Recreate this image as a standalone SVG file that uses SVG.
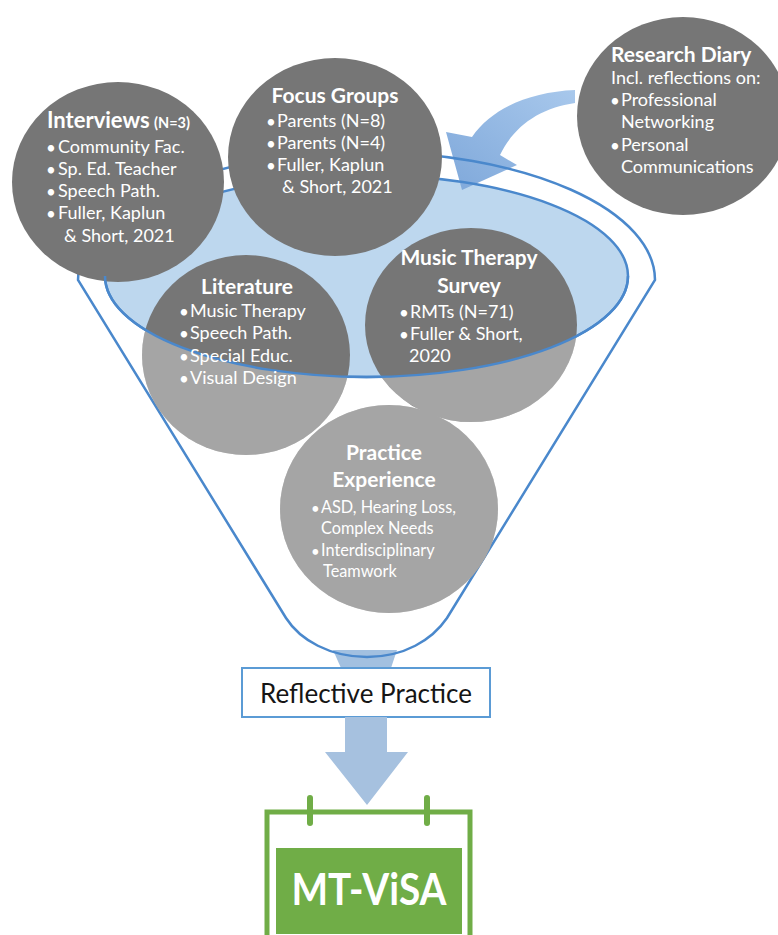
<svg xmlns="http://www.w3.org/2000/svg" width="778" height="935" viewBox="0 0 778 935">
  <style>
    .disc { fill: #767676; }
    .ttl { font-family: Lato, "Open Sans", sans-serif; font-weight: bold; font-size: 21px; fill: #ffffff; }
    .li { font-family: Lato, "Open Sans", sans-serif; font-size: 18px; fill: #ffffff; }
    .li2 { font-family: Lato, "Open Sans", sans-serif; font-size: 16.3px; fill: #ffffff; }
    .bul { font-family: Lato, "Open Sans", sans-serif; font-size: 17px; fill: #ffffff; }
    .mid { text-anchor: middle; }
    .rim { fill: none; stroke: #4a88cc; stroke-width: 2.5; }
  </style>
  <defs>
    <linearGradient id="curveFill" x1="1" y1="0" x2="0" y2="1">
      <stop offset="0" stop-color="#a8c8ec"/>
      <stop offset="1" stop-color="#7fa8da"/>
    </linearGradient>
    <clipPath id="innerDiscs">
      <ellipse cx="246" cy="355" rx="104" ry="100"/>
      <ellipse cx="471" cy="325" rx="106" ry="97"/>
      <ellipse cx="389" cy="509" rx="109" ry="104"/>
    </clipPath>
  </defs>

  <rect width="778" height="935" fill="#ffffff"/>

  <!-- funnel: stem, liquid surface, incoming arrow, outline -->
  <g id="funnel">
    <polygon points="333,650 397,650 391,668 341,668" fill="#a2c0e0"/>
    <ellipse cx="366.5" cy="276" rx="261.5" ry="101" fill="#bdd7ee"/>
    <path id="diary-arrow" d="M 575,90 C 530,92 492,108 472,137 L 446,132 L 462,190 L 517,165 L 500,155 C 514,126 540,108 575,103 Z" fill="url(#curveFill)"/>
    <ellipse class="rim" cx="366.5" cy="276" rx="261.5" ry="101"/>
    <path class="rim" d="M 655,280 A 288.5 128 0 0 0 78,280 L 286,618 C 300,640 330,657 367,657 C 404,657 432,640 447,618 Z"/>
  </g>

  <!-- sources inside the funnel -->
  <g id="literature">
    <ellipse class="disc" cx="246" cy="355" rx="104" ry="100"/>
  </g>
  <g id="survey">
    <ellipse class="disc" cx="471" cy="325" rx="106" ry="97"/>
  </g>
  <g id="practice">
    <ellipse class="disc" cx="389" cy="509" rx="109" ry="104"/>
  </g>

  <!-- lighter shading of the discs below the surface -->
  <path clip-path="url(#innerDiscs)" fill-rule="evenodd" fill="#ffffff" fill-opacity="0.35"
        d="M 0,0 H 778 V 935 H 0 Z M 105,276 A 261.5 101 0 0 0 628,276 A 261.5 101 0 0 0 105,276 Z"/>

  <!-- sources at the rim -->
  <g id="interviews">
    <ellipse class="disc" cx="118" cy="182" rx="106" ry="100"/>
  </g>
  <g id="focus-groups">
    <ellipse class="disc" cx="335" cy="157" rx="107" ry="99"/>
  </g>
  <g id="research-diary">
    <ellipse class="disc" cx="683" cy="116" rx="106" ry="99"/>
  </g>

  <!-- front edge of the surface -->
  <g id="connectors">
    <path class="rim" d="M 105,276 A 261.5 101 0 0 0 628,276"/>
  </g>

  <!-- labels -->
  <g id="interviews-text">
    <text class="ttl" x="47" y="128" style="font-size:22px">Interviews</text>
    <text class="ttl" x="154" y="128" style="font-size:14.5px">(N=3)</text>
    <text class="bul" x="46" y="154">•</text><text class="li" x="58" y="153">Community Fac.</text>
    <text class="bul" x="46" y="176">•</text><text class="li" x="58" y="175">Sp. Ed. Teacher</text>
    <text class="bul" x="46" y="198">•</text><text class="li" x="58" y="197">Speech Path.</text>
    <text class="bul" x="46" y="220">•</text><text class="li" x="58" y="219">Fuller, Kaplun</text>
    <text class="li" x="64" y="242">&amp; Short, 2021</text>
  </g>
  <g id="focus-text">
    <text class="ttl mid" x="335" y="103">Focus Groups</text>
    <text class="bul" x="266" y="128">•</text><text class="li" x="277" y="127">Parents (N=8)</text>
    <text class="bul" x="266" y="150">•</text><text class="li" x="277" y="149">Parents (N=4)</text>
    <text class="bul" x="266" y="172">•</text><text class="li" x="277" y="171">Fuller, Kaplun</text>
    <text class="li" x="282" y="193">&amp; Short, 2021</text>
  </g>
  <g id="diary-text">
    <text class="ttl" x="611" y="62">Research Diary</text>
    <text class="li" x="611" y="84">Incl. reflections on:</text>
    <text class="bul" x="610" y="107">•</text><text class="li" x="621" y="106">Professional</text>
    <text class="li" x="621" y="128">Networking</text>
    <text class="bul" x="610" y="152">•</text><text class="li" x="621" y="151">Personal</text>
    <text class="li" x="621" y="173">Communications</text>
  </g>
  <g id="literature-text">
    <text class="ttl mid" x="247" y="294">Literature</text>
    <text class="bul" x="179" y="318">•</text><text class="li" x="190" y="317">Music Therapy</text>
    <text class="bul" x="179" y="340">•</text><text class="li" x="190" y="339">Speech Path.</text>
    <text class="bul" x="179" y="363">•</text><text class="li" x="190" y="362">Special Educ.</text>
    <text class="bul" x="179" y="385">•</text><text class="li" x="190" y="384">Visual Design</text>
  </g>
  <g id="survey-text">
    <text class="ttl mid" x="469" y="265">Music Therapy</text>
    <text class="ttl mid" x="469" y="293">Survey</text>
    <text class="bul" x="399" y="319">•</text><text class="li" x="410" y="318">RMTs (N=71)</text>
    <text class="bul" x="399" y="341">•</text><text class="li" x="410" y="340">Fuller &amp; Short,</text>
    <text class="li" x="409" y="362">2020</text>
  </g>
  <g id="practice-text">
    <text class="ttl mid" x="384" y="460">Practice</text>
    <text class="ttl mid" x="384" y="487">Experience</text>
    <text class="bul" x="311" y="514" style="font-size:15px">•</text><text class="li2" x="321" y="513">ASD, Hearing Loss,</text>
    <text class="li2" x="321" y="534">Complex Needs</text>
    <text class="bul" x="311" y="557" style="font-size:15px">•</text><text class="li2" x="321" y="556">Interdisciplinary</text>
    <text class="li2" x="323" y="577">Teamwork</text>
  </g>

  <!-- reflective practice box -->
  <g id="reflective-practice">
    <rect x="242" y="668" width="248" height="49" fill="#ffffff" stroke="#5b9bd5" stroke-width="2"/>
    <text x="366" y="703" text-anchor="middle" font-family="Lato, 'Open Sans', sans-serif" font-size="26" fill="#151515">Reflective Practice</text>
  </g>

  <!-- output arrow -->
  <g id="output-arrow">
    <polygon points="345,717 387,717 387,752 408,752 367,805 325,752 345,752" fill="#a6c1df"/>
  </g>

  <!-- MT-ViSA calendar -->
  <g id="mt-visa">
    <rect x="267" y="812" width="203" height="130" fill="#ffffff" stroke="#70ad47" stroke-width="5"/>
    <line x1="310" y1="798" x2="310" y2="823" stroke="#70ad47" stroke-width="6" stroke-linecap="round"/>
    <line x1="427" y1="798" x2="427" y2="823" stroke="#70ad47" stroke-width="6" stroke-linecap="round"/>
    <rect x="276" y="848" width="186" height="86" fill="#70ad47"/>
    <text x="369" y="905" text-anchor="middle" font-family="Lato, 'Open Sans', sans-serif" font-weight="bold" font-size="43" textLength="155" lengthAdjust="spacingAndGlyphs" fill="#ffffff">MT-ViSA</text>
  </g>
</svg>
